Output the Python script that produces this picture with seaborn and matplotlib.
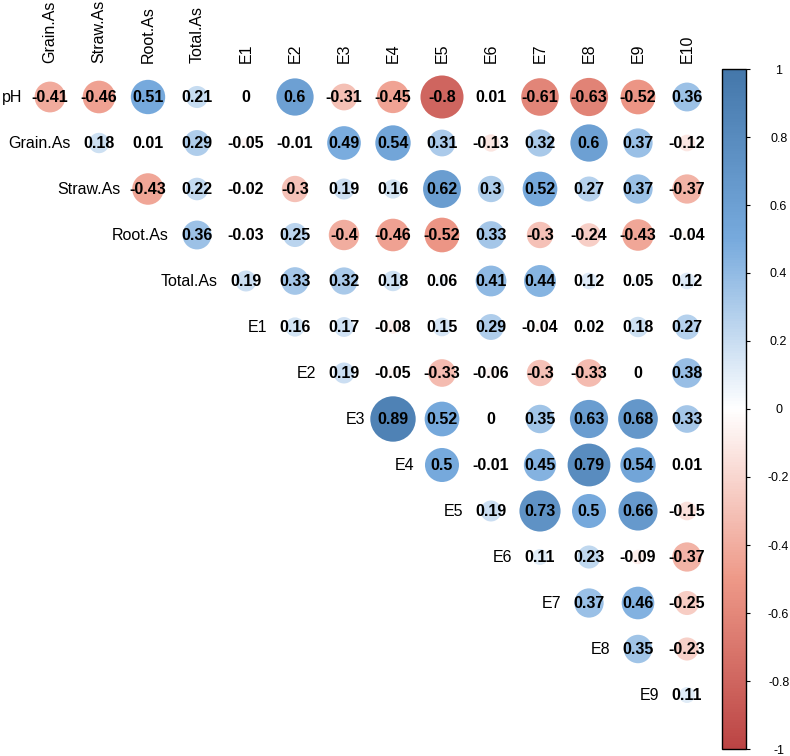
import numpy as np
import pandas as pd
import matplotlib
matplotlib.use("Agg")
import matplotlib.pyplot as plt
import seaborn as sns
from matplotlib.colors import LinearSegmentedColormap, Normalize
from matplotlib.cm import ScalarMappable

## DATA
# variable names, upper triangle of the correlation matrix (row by row, diagonal left out)
variables = ["pH", "Grain.As", "Straw.As", "Root.As", "Total.As",
             "E1", "E2", "E3", "E4", "E5", "E6", "E7", "E8", "E9", "E10"]

r_pH = [-0.41, -0.46, 0.51, 0.21, 0, 0.6, -0.31, -0.45, -0.8, 0.01, -0.61, -0.63, -0.52, 0.36]
r_grain = [0.18, 0.01, 0.29, -0.05, -0.01, 0.49, 0.54, 0.31, -0.13, 0.32, 0.6, 0.37, -0.12]
r_straw = [-0.43, 0.22, -0.02, -0.3, 0.19, 0.16, 0.62, 0.3, 0.52, 0.27, 0.37, -0.37]
r_root = [0.36, -0.03, 0.25, -0.4, -0.46, -0.52, 0.33, -0.3, -0.24, -0.43, -0.04]
r_total = [0.19, 0.33, 0.32, 0.18, 0.06, 0.41, 0.44, 0.12, 0.05, 0.12]
r_E1 = [0.16, 0.17, -0.08, 0.15, 0.29, -0.04, 0.02, 0.18, 0.27]
r_E2 = [0.19, -0.05, -0.33, -0.06, -0.3, -0.33, 0, 0.38]
r_E3 = [0.89, 0.52, 0, 0.35, 0.63, 0.68, 0.33]
r_E4 = [0.5, -0.01, 0.45, 0.79, 0.54, 0.01]
r_E5 = [0.19, 0.73, 0.5, 0.66, -0.15]
r_E6 = [0.11, 0.23, -0.09, -0.37]
r_E7 = [0.37, 0.46, -0.25]
r_E8 = [0.35, -0.23]
r_E9 = [0.11]

upper_rows = [r_pH, r_grain, r_straw, r_root, r_total, r_E1, r_E2,
              r_E3, r_E4, r_E5, r_E6, r_E7, r_E8, r_E9]

# long table: row index i, column index j (columns start at Grain.As)
records = []
for i, vals in enumerate(upper_rows):
    for k, v in enumerate(vals):
        j = i + k  # column index among variables[1:]
        records.append({"row": i, "col": j, "r": v, "absr": abs(v)})
df = pd.DataFrame(records)

cmap = LinearSegmentedColormap.from_list(
    "corr", ["#BB4444", "#EE9988", "#FFFFFF", "#77AADD", "#4477AA"])

plt.rcParams['font.family'] = ['Liberation Sans', 'DejaVu Sans']

fig = plt.figure(figsize=(7.9, 7.56), dpi=100)
W, H = 790, 756
# cell grid: x centres 50 + 49*j, y centres 97 + 46*i (pixels)
ax = fig.add_axes([25.5 / W, 1 - 718 / H, 686 / W, 644 / H])

# circle area follows |r|
sns.scatterplot(data=df, x="col", y="row", hue="r", size="absr",
                palette=cmap, hue_norm=(-1, 1),
                size_norm=(0, 1), sizes=(0, 1200),
                linewidth=0, legend=False, ax=ax, zorder=2)

# numbers in the cells
for _, row in df.iterrows():
    ax.text(row["col"], row["row"], f"{row['r']:g}", ha="center", va="center",
            fontsize=11.5, fontweight="bold", color="black", zorder=3)

# row labels on the diagonal
for i, name in enumerate(variables[:-1]):
    ax.text(i - 1 + 0.43, i, name, ha="right", va="center", fontsize=11.5, color="black")

# column labels on top
for j, name in enumerate(variables[1:]):
    ax.text(j, -0.73, name, ha="center", va="bottom", rotation=90,
            fontsize=11.5, color="black")

ax.set_xlim(-0.5, 13.5)
ax.set_ylim(13.5, -0.5)
ax.axis("off")

# colour bar
cax = fig.add_axes([722 / W, 1 - 749 / H, 24 / W, 680 / H])
cb = fig.colorbar(ScalarMappable(norm=Normalize(-1, 1), cmap=cmap), cax=cax)
cb.set_ticks(np.round(np.arange(-1, 1.01, 0.2), 1))
cb.set_ticklabels(["-1", "-0.8", "-0.6", "-0.4", "-0.2", "0",
                   "0.2", "0.4", "0.6", "0.8", "1"])
cb.outline.set_linewidth(1)
cax.tick_params(length=3, width=0.8, pad=20.5, labelsize=9, colors="black")
for lab in cax.get_yticklabels():
    lab.set_ha("center")

fig.savefig("out.png", dpi=100)
